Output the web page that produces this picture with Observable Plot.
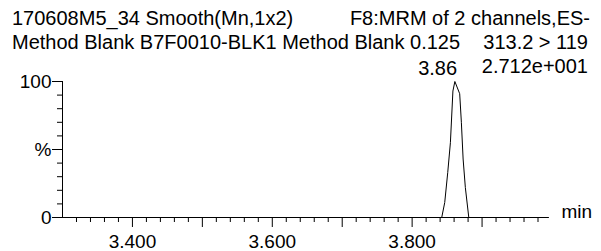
<!DOCTYPE html>
<html><head><meta charset="utf-8">
<script src="https://cdn.jsdelivr.net/npm/d3@7"></script>
<script src="https://cdn.jsdelivr.net/npm/@observablehq/plot@0.6"></script>
<style>
body{margin:0;background:#fff;}
#chart{position:relative;width:601px;height:251px;}
</style>
</head><body><div id="chart"></div>
<script>
// Chromatogram trace (retention time in min, relative intensity in %)
const times = [3.300, 3.8423, 3.8466, 3.8509, 3.8547, 3.8583, 3.8611, 3.8680, 3.8704, 3.8729, 3.8761, 3.8810, 3.995];
const intensity = [0, 0, 11, 33, 55, 93, 100, 91, 70, 43, 22, 0, 0];
const peakTime = [3.86];
const peakIntensity = [100];
const peakLabels = ["3.86"];

const xDomain = [3.300, 3.995];
const xMajorTicks = [3.4, 3.5, 3.6, 3.7, 3.8, 3.9];
const xLabelTicks = [3.4, 3.6, 3.8];
const xMinorTicks = [3.32,3.34,3.36,3.38,3.42,3.44,3.46,3.48,3.52,3.54,3.56,3.58,3.62,3.64,3.66,3.68,3.72,3.74,3.76,3.78,3.82,3.84,3.86,3.88,3.92,3.94,3.96,3.98];
const yMinorTicks = [10, 20, 30, 40, 60, 70, 80, 90];
const yMajorTicks = [0, 50, 100];
const yTickLabels = ["0", "%", "100"];

const headerLeft = ["170608M5_34 Smooth(Mn,1x2)", "Method Blank B7F0010-BLK1 Method Blank 0.125"];
const headerRight = ["F8:MRM of 2 channels,ES-", "313.2 > 119", "2.712e+001"];
const xUnit = "min";

const trace = times.map((t, i) => ({t, v: intensity[i]}));
const peaks = peakTime.map((t, i) => ({t, v: peakIntensity[i], label: peakLabels[i]}));

const FONT = "'Liberation Sans', Arial, Helvetica, sans-serif";

const plot = Plot.plot({
  width: 601,
  height: 251,
  marginLeft: 62,
  marginRight: 53,
  marginTop: 81,
  marginBottom: 34,
  style: {fontFamily: FONT, color: "#000", background: "#fff", overflow: "visible"},
  x: {domain: xDomain},
  y: {domain: [0, 100]},
  marks: [
    Plot.axisX(xMinorTicks, {tickSize: 5, tickFormat: () => "", label: null, strokeWidth: 1}),
    Plot.axisX(xMajorTicks, {tickSize: 10, tickPadding: 7, fontSize: 19, label: null, strokeWidth: 1,
      tickFormat: d => xLabelTicks.includes(d) ? d.toFixed(3) : ""}),
    Plot.axisY(yMinorTicks, {tickSize: 5, tickFormat: () => "", label: null, strokeWidth: 1}),
    Plot.axisY(yMajorTicks, {tickSize: 10, tickPadding: 1, fontSize: 19, label: null, strokeWidth: 1,
      tickFormat: d => yTickLabels[yMajorTicks.indexOf(d)]}),
    Plot.ruleY([0], {stroke: "#000", strokeWidth: 1}),
    Plot.ruleX([xDomain[0]], {y1: 0, y2: 100, stroke: "#000", strokeWidth: 1}),
    Plot.line(trace, {x: "t", y: "v", stroke: "#000", strokeWidth: 1}),
    Plot.text(peaks, {x: "t", y: "v", text: "label", textAnchor: "end", lineAnchor: "bottom", dx: 3, dy: -7, fontSize: 20, fill: "#000"}),
    Plot.text([xUnit], {frameAnchor: "bottom-right", text: d => d, textAnchor: "start", dx: 13, fontSize: 19, fill: "#000"})
  ]
});

const svg = d3.select(plot);
const header = [
  {text: headerLeft[0], x: 12, y: 25, anchor: "start"},
  {text: headerRight[0], x: 590, y: 25, anchor: "end"},
  {text: headerLeft[1], x: 12, y: 49, anchor: "start"},
  {text: headerRight[1], x: 588, y: 49, anchor: "end"},
  {text: headerRight[2], x: 588, y: 73, anchor: "end"}
];
svg.append("g")
  .attr("font-family", FONT)
  .attr("font-size", 20)
  .attr("fill", "#000")
  .selectAll("text")
  .data(header)
  .join("text")
  .attr("x", d => d.x)
  .attr("y", d => d.y)
  .attr("text-anchor", d => d.anchor)
  .text(d => d.text);

document.getElementById("chart").appendChild(plot);
</script>
</body></html>
